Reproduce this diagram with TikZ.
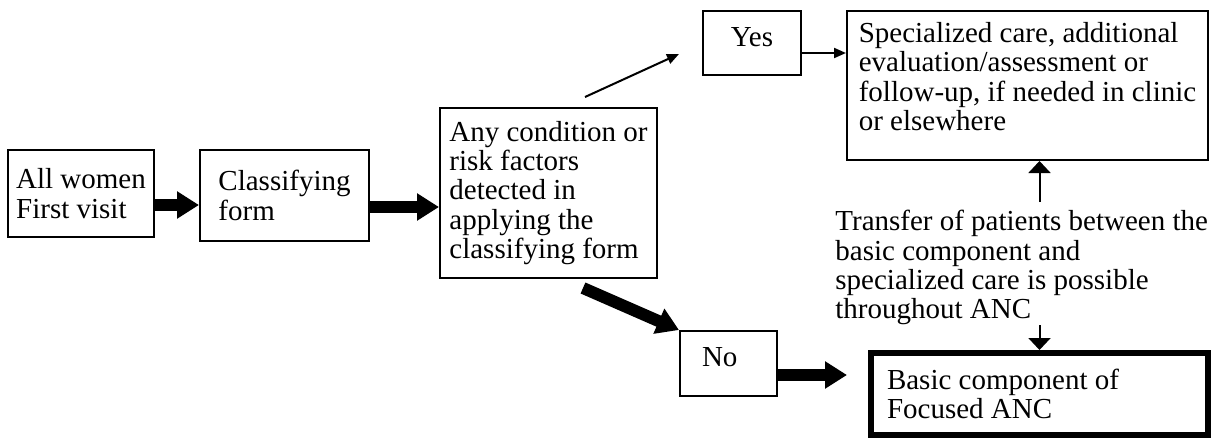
\documentclass[tikz,border=0pt]{standalone}
\usepackage{fontspec}
\setmainfont{Liberation Serif}
\usetikzlibrary{arrows.meta}
\tikzstyle{box}=[draw,line width=1pt,inner xsep=2pt,inner ysep=2pt,align=flush left]
\tikzstyle{heavybox}=[draw,line width=3pt,inner xsep=8pt,inner ysep=2pt,align=flush left]
\tikzstyle{fatarrow}=[draw,line width=6pt,-{Triangle[length=11pt,width=13pt]}]
\tikzstyle{thinarrow}=[draw,line width=1pt,-{Triangle[length=6pt,width=5pt]}]
\tikzstyle{linkarrow}=[draw,line width=1pt,-{Triangle[length=6pt,width=11pt]}]

\begin{document}
\begin{tikzpicture}[x=0.5pt,y=-0.5pt,font=\fontsize{14.5}{14.6}\selectfont]
    \useasboundingbox (0,0) rectangle (1217,440);
    % First the boxes of the flow
    \node[box,minimum width=73pt,minimum height=43.5pt] (women) at (81,193.5) {All women\\First visit};
    \node[box,minimum width=84.5pt,minimum height=45.5pt] (classify) at (284.5,195.5) {Classifying\\form};
    \node[box,minimum width=108.5pt,minimum height=85pt] (cond) at (548.5,193) {Any condition or\\risk factors\\detected in\\applying the\\classifying form};
    \node[box,align=center,text depth=6pt,minimum width=49pt,minimum height=32pt] (yes) at (752,43) {Yes};
    \node[box,text depth=9pt,minimum width=180.5pt,minimum height=74.5pt] (spec) at (1027.5,85.5) {Specialized care, additional\\evaluation/assessment or\\follow-up, if needed in clinic\\or elsewhere};
    \node[box,text width=26.5pt,inner xsep=11pt,text depth=6.5pt,minimum height=32.5pt] (no) at (728.5,363.5) {No};
    \node[heavybox,text width=152.5pt,minimum height=41pt] (basic) at (1039.5,394) {Basic component of\\Focused ANC};
    \node[anchor=north west,inner sep=0pt,align=flush left] (transfer) at (835,210) {Transfer of patients between the\\basic component and\\specialized care is possible\\throughout ANC};

    % free ends of the two branch arrows
    \coordinate (yesstart) at (585,97);
    \coordinate (yesend) at (679,54);
    \coordinate (nostart) at (583,288);

    % Then the arrows
    \path[fatarrow] ([yshift=-5.75pt]women.east) -- ([yshift=-5.75pt]women.east -| classify.west);
    \path[fatarrow] ([yshift=-5.75pt]classify.east) -- ([yshift=-5.75pt]classify.east -| cond.west);
    \path[thinarrow] (yesstart) -- (yesend);
    \path[thinarrow] ([yshift=-5pt]yes.east) -- ([yshift=-5pt]yes.east -| spec.west);
    \path[fatarrow] (nostart) -- (no.north west);
    \path[fatarrow,shorten >=10.5pt] ([yshift=-5.75pt]no.east) -- ([yshift=-5.75pt]no.east -| basic.west);
    \path[linkarrow] ([yshift=4pt]transfer.north -| basic.north) -- (basic.north |- spec.south);
    \path[linkarrow] (transfer.south -| basic.north) -- (basic.north);
\end{tikzpicture}
\end{document}
